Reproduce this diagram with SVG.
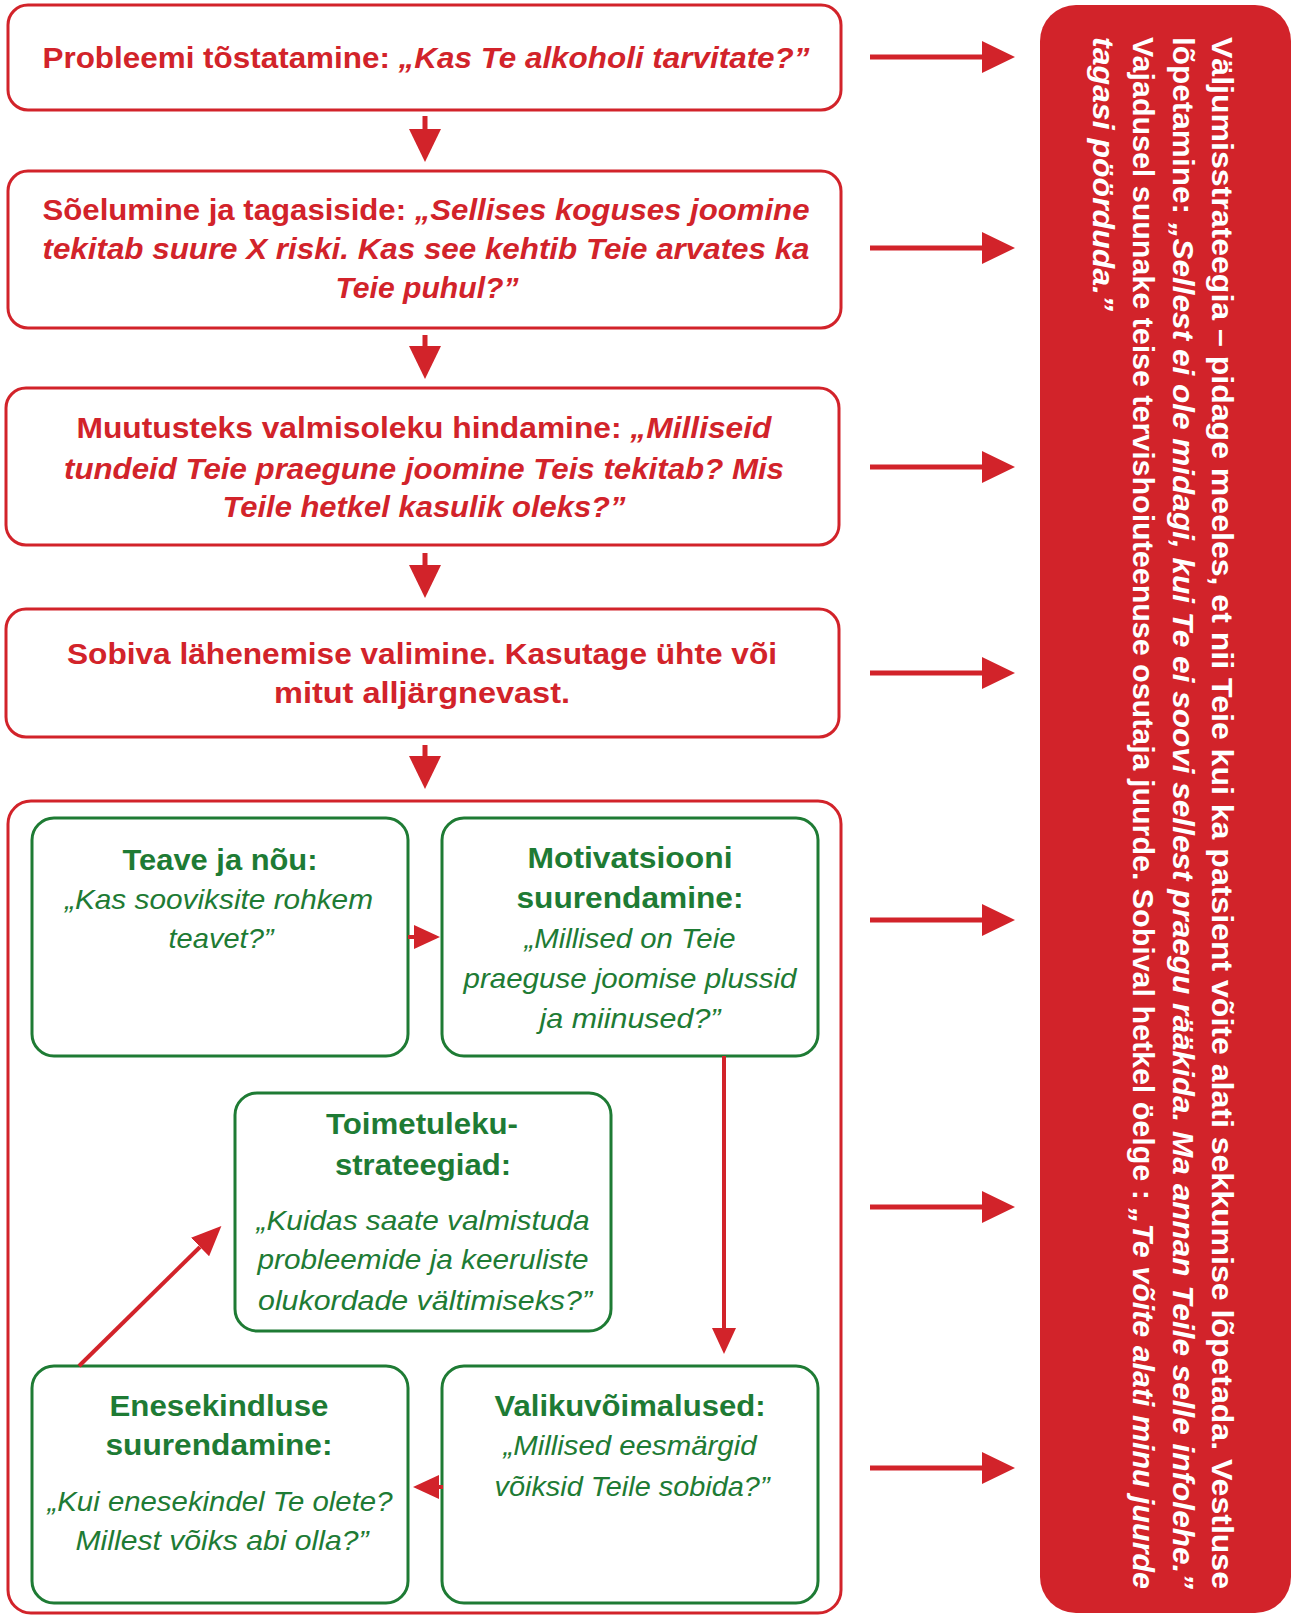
<svg xmlns="http://www.w3.org/2000/svg" width="1293" height="1615" viewBox="0 0 1293 1615">
<style>
.rb{fill:#fff;stroke:#d2232a;stroke-width:3}
.gb{fill:#fff;stroke:#1e7b34;stroke-width:3}
.rt{font-family:"Liberation Sans",Arial,sans-serif;font-weight:bold;font-size:29px;fill:#d2232a;text-anchor:middle}
.gt{font-family:"Liberation Sans",Arial,sans-serif;font-weight:bold;font-size:29px;fill:#1e7b34;text-anchor:middle}
.gi{font-family:"Liberation Sans",Arial,sans-serif;font-style:italic;font-size:28px;fill:#1e7b34;text-anchor:middle}
.wt{font-family:"Liberation Sans",Arial,sans-serif;font-weight:bold;font-size:29px;fill:#fff}
.i{font-style:italic}
.ln{stroke:#d2232a;stroke-width:5;fill:none}
.ls{stroke:#d2232a;stroke-width:4;fill:none}
</style>
<defs>
<marker id="big" markerUnits="userSpaceOnUse" markerWidth="33" markerHeight="32" refX="0" refY="16" orient="auto" viewBox="0 0 33 32"><path d="M0,0 L33,16 L0,32 Z" fill="#d2232a"/></marker>
<marker id="sm" markerUnits="userSpaceOnUse" markerWidth="26" markerHeight="24" refX="0" refY="12" orient="auto" viewBox="0 0 26 24"><path d="M0,0 L26,12 L0,24 Z" fill="#d2232a"/></marker>
<marker id="md" markerUnits="userSpaceOnUse" markerWidth="30" markerHeight="26" refX="0" refY="13" orient="auto" viewBox="0 0 30 26"><path d="M0,0 L30,13 L0,26 Z" fill="#d2232a"/></marker>
</defs>

<g id="exit">
<rect x="1040" y="5" width="251" height="1608" rx="36" fill="#d2232a"/>
<text class="wt" transform="translate(1212,37) rotate(90)" textLength="1552" lengthAdjust="spacingAndGlyphs">Väljumisstrateegia – pidage meeles, et nii Teie kui ka patsient võite alati sekkumise lõpetada. Vestluse</text>
<text class="wt" transform="translate(1173,37) rotate(90)" textLength="1552" lengthAdjust="spacingAndGlyphs">lõpetamine: <tspan class="i">„Sellest ei ole midagi, kui Te ei soovi sellest praegu rääkida. Ma annan Teile selle infolehe.”</tspan></text>
<text class="wt" transform="translate(1133,37) rotate(90)" textLength="1552" lengthAdjust="spacingAndGlyphs">Vajadusel suunake teise tervishoiuteenuse osutaja juurde. Sobival hetkel öelge : <tspan class="i">„Te võite alati minu juurde</tspan></text>
<text class="wt i" transform="translate(1093,37) rotate(90)" textLength="274" lengthAdjust="spacingAndGlyphs">tagasi pöörduda.”</text>
</g>

<g id="n1">
<rect class="rb" x="8" y="5" width="833" height="105" rx="20"/>
<text class="rt" x="426" y="68" textLength="767" lengthAdjust="spacingAndGlyphs">Probleemi tõstatamine: <tspan class="i">„Kas Te alkoholi tarvitate?”</tspan></text>
</g>

<g id="n2">
<rect class="rb" x="8" y="171" width="833" height="157" rx="20"/>
<text class="rt" x="426" y="220" textLength="767" lengthAdjust="spacingAndGlyphs">Sõelumine ja tagasiside: <tspan class="i">„Sellises koguses joomine</tspan></text>
<text class="rt i" x="426" y="259" textLength="767" lengthAdjust="spacingAndGlyphs">tekitab suure X riski. Kas see kehtib Teie arvates ka</text>
<text class="rt i" x="427" y="298" textLength="183" lengthAdjust="spacingAndGlyphs">Teie puhul?”</text>
</g>

<g id="n3">
<rect class="rb" x="6" y="388" width="833" height="157" rx="20"/>
<text class="rt" x="424" y="438" textLength="695" lengthAdjust="spacingAndGlyphs">Muutusteks valmisoleku hindamine: <tspan class="i">„Milliseid</tspan></text>
<text class="rt i" x="424" y="479" textLength="720" lengthAdjust="spacingAndGlyphs">tundeid Teie praegune joomine Teis tekitab? Mis</text>
<text class="rt i" x="424" y="517" textLength="403" lengthAdjust="spacingAndGlyphs">Teile hetkel kasulik oleks?”</text>
</g>

<g id="n4">
<rect class="rb" x="6" y="609" width="833" height="128" rx="20"/>
<text class="rt" x="422" y="664" textLength="710" lengthAdjust="spacingAndGlyphs">Sobiva lähenemise valimine. Kasutage ühte või</text>
<text class="rt" x="422" y="703" textLength="296" lengthAdjust="spacingAndGlyphs">mitut alljärgnevast.</text>
</g>

<g id="container">
<rect class="rb" x="8" y="801" width="833" height="812" rx="23"/>
</g>

<g id="teave">
<rect class="gb" x="32" y="818" width="376" height="238" rx="22"/>
<text class="gt" x="220" y="870" textLength="195" lengthAdjust="spacingAndGlyphs">Teave ja nõu:</text>
<text class="gi" x="219" y="909" textLength="308" lengthAdjust="spacingAndGlyphs">„Kas sooviksite rohkem</text>
<text class="gi" x="221" y="948" textLength="105" lengthAdjust="spacingAndGlyphs">teavet?”</text>
</g>

<g id="motivatsioon">
<rect class="gb" x="442" y="818" width="376" height="238" rx="22"/>
<text class="gt" x="630" y="868" textLength="205" lengthAdjust="spacingAndGlyphs">Motivatsiooni</text>
<text class="gt" x="630" y="908" textLength="227" lengthAdjust="spacingAndGlyphs">suurendamine:</text>
<text class="gi" x="630" y="948" textLength="211" lengthAdjust="spacingAndGlyphs">„Millised on Teie</text>
<text class="gi" x="630" y="988" textLength="333" lengthAdjust="spacingAndGlyphs">praeguse joomise plussid</text>
<text class="gi" x="630" y="1028" textLength="181" lengthAdjust="spacingAndGlyphs">ja miinused?”</text>
</g>

<g id="toimetulek">
<rect class="gb" x="235" y="1093" width="376" height="238" rx="22"/>
<text class="gt" x="422" y="1134" textLength="192" lengthAdjust="spacingAndGlyphs">Toimetuleku-</text>
<text class="gt" x="423" y="1175" textLength="176" lengthAdjust="spacingAndGlyphs">strateegiad:</text>
<text class="gi" x="423" y="1230" textLength="333" lengthAdjust="spacingAndGlyphs">„Kuidas saate valmistuda</text>
<text class="gi" x="423" y="1269" textLength="331" lengthAdjust="spacingAndGlyphs">probleemide ja keeruliste</text>
<text class="gi" x="425" y="1310" textLength="334" lengthAdjust="spacingAndGlyphs">olukordade vältimiseks?”</text>
</g>

<g id="enesekindlus">
<rect class="gb" x="32" y="1366" width="376" height="237" rx="22"/>
<text class="gt" x="219" y="1416" textLength="219" lengthAdjust="spacingAndGlyphs">Enesekindluse</text>
<text class="gt" x="219" y="1455" textLength="227" lengthAdjust="spacingAndGlyphs">suurendamine:</text>
<text class="gi" x="220" y="1511" textLength="345" lengthAdjust="spacingAndGlyphs">„Kui enesekindel Te olete?</text>
<text class="gi" x="222" y="1550" textLength="293" lengthAdjust="spacingAndGlyphs">Millest võiks abi olla?”</text>
</g>

<g id="valikud">
<rect class="gb" x="442" y="1366" width="376" height="237" rx="22"/>
<text class="gt" x="630" y="1416" textLength="271" lengthAdjust="spacingAndGlyphs">Valikuvõimalused:</text>
<text class="gi" x="630" y="1455" textLength="253" lengthAdjust="spacingAndGlyphs">„Millised eesmärgid</text>
<text class="gi" x="632" y="1496" textLength="275" lengthAdjust="spacingAndGlyphs">võiksid Teile sobida?”</text>
</g>

<g id="connectors">
<line class="ln" x1="425" y1="116" x2="425" y2="129" marker-end="url(#big)"/>
<line class="ln" x1="425" y1="335" x2="425" y2="346" marker-end="url(#big)"/>
<line class="ln" x1="425" y1="553" x2="425" y2="565" marker-end="url(#big)"/>
<line class="ln" x1="425" y1="745" x2="425" y2="756" marker-end="url(#big)"/>
<line class="ln" x1="870" y1="57" x2="982" y2="57" marker-end="url(#big)"/>
<line class="ln" x1="870" y1="248" x2="982" y2="248" marker-end="url(#big)"/>
<line class="ln" x1="870" y1="467" x2="982" y2="467" marker-end="url(#big)"/>
<line class="ln" x1="870" y1="673" x2="982" y2="673" marker-end="url(#big)"/>
<line class="ln" x1="870" y1="920" x2="982" y2="920" marker-end="url(#big)"/>
<line class="ln" x1="870" y1="1207" x2="982" y2="1207" marker-end="url(#big)"/>
<line class="ln" x1="870" y1="1468" x2="982" y2="1468" marker-end="url(#big)"/>
<line class="ls" x1="408" y1="937" x2="414" y2="937" marker-end="url(#sm)"/>
<line class="ls" x1="724" y1="1056" x2="724" y2="1328" marker-end="url(#sm)"/>
<line class="ls" x1="443" y1="1487" x2="439" y2="1487" marker-end="url(#sm)"/>
<line class="ls" x1="79" y1="1366" x2="200" y2="1247" marker-end="url(#md)"/>
</g>
</svg>
